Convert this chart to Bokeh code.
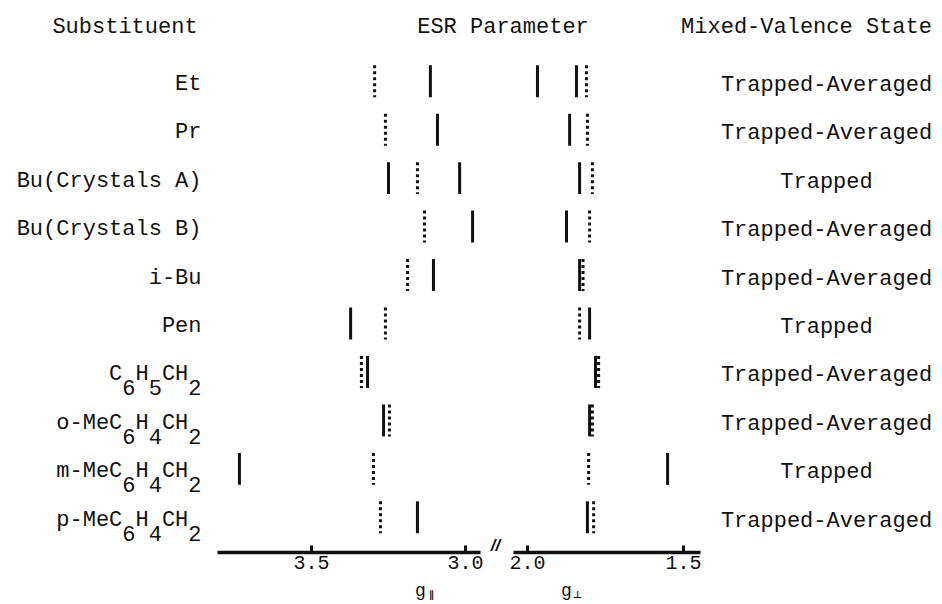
from bokeh.plotting import figure
from bokeh.layouts import column, row
from bokeh.models import Range1d, FixedTicker
from bokeh.embed import file_html
from bokeh.resources import INLINE
from bokeh.core.properties import value

# ---------------- data ----------------
substituents = ["Et", "Pr", "Bu(Crystals A)", "Bu(Crystals B)", "i-Bu", "Pen",
                "C_6H_5CH_2", "o-MeC_6H_4CH_2", "m-MeC_6H_4CH_2", "p-MeC_6H_4CH_2"]
states = ["Trapped-Averaged", "Trapped-Averaged", "Trapped", "Trapped-Averaged",
          "Trapped-Averaged", "Trapped", "Trapped-Averaged", "Trapped-Averaged",
          "Trapped", "Trapped-Averaged"]

# g-parallel values (solid and dotted marks), one list per substituent
g_par_solid = [[3.114], [3.091], [3.250, 3.019], [2.977], [3.104],
               [3.373], [3.318], [3.266], [3.734], [3.156]]
g_par_dotted = [[3.295], [3.260], [3.156], [3.133], [3.188],
                [3.260], [3.338], [3.247], [3.299], [3.276]]
# g-perpendicular values
g_perp_solid = [[1.968, 1.843], [1.865], [1.833], [1.875], [1.833],
                [1.801], [1.782], [1.801], [1.551], [1.808]]
g_perp_dotted = [[1.811], [1.808], [1.792], [1.801], [1.822],
                 [1.833], [1.772], [1.792], [1.804], [1.788]]

par_ticks = [3.5, 3.0]
par_tick_labels = ["3.5", "3.0"]
perp_ticks = [2.0, 1.5]
perp_tick_labels = ["2.0", "1.5"]
headers = ["Substituent", "ESR Parameter", "Mixed-Valence State"]
axis_titles = ["g", "g"]
axis_title_subs = ["\u2225", "\u22a5"]

# ---------------- styling ----------------
MONO = "Liberation Mono"
INK = "#111111"
NBSP = "\u00a0"
HALF = 0.33          # half mark height in row units
FS = "22px"
W = 940
H = 602
SPLIT = 505          # page x where the two panels meet
TOP = 50             # page y of the panels' top
AXIS_Y = 552         # page y of the axis line
BOTTOM_BORDER = 26
FOOT_H = H - (AXIS_Y + BOTTOM_BORDER)

# page-pixel -> data helpers (for placement only)
def par_x(px):
    return 3.5 - (px - 311) / 308.0

def perp_x(px):
    return 2.0 - (px - 527) / 312.0

def row_y(py):
    return (py - 80.7) / 48.46

def flatten(groups):
    xs, ys = [], []
    for i, grp in enumerate(groups):
        for v in grp:
            xs.append(v)
            ys.append(i)
    return xs, ys

def split_sub(s):
    main, sub = "", ""
    i = 0
    while i < len(s):
        if s[i] == "_":
            sub += s[i + 1]
            main += NBSP
            i += 2
        else:
            main += s[i]
            sub += NBSP
            i += 1
    return main, sub

def plain_fig(width, height, xr, yr, bottom=0, with_axis=False):
    p = figure(width=width, height=height, x_range=xr, y_range=yr,
               output_backend="svg", toolbar_location=None, title=None,
               min_border_left=0, min_border_right=0, min_border_top=0,
               min_border_bottom=bottom, y_axis_location=None,
               x_axis_location="below" if with_axis else None,
               outline_line_color=None, background_fill_color="white",
               border_fill_color="white")
    p.grid.visible = False
    return p

def style_axis(ax, ticks, labels, bounds):
    ax.ticker = FixedTicker(ticks=ticks)
    ax.major_label_overrides = {t: l for t, l in zip(ticks, labels)}
    ax.bounds = bounds
    ax.axis_line_width = 3.5
    ax.axis_line_color = INK
    ax.major_tick_in = 7
    ax.major_tick_out = 0
    ax.major_tick_line_width = 3
    ax.major_tick_line_color = INK
    ax.minor_tick_line_color = None
    ax.major_label_text_font = MONO
    ax.major_label_text_font_size = "20px"
    ax.major_label_text_color = INK
    ax.major_label_standoff = 3

def draw_marks(p, groups, dotted):
    xs, ys = flatten(groups)
    p.segment(x0=xs, y0=[y - HALF for y in ys], x1=xs, y1=[y + HALF for y in ys],
              line_width=3, line_color=INK,
              line_dash="3 3" if dotted else "solid")

yr_start, yr_end = row_y(AXIS_Y), row_y(TOP)
panel_h = AXIS_Y - TOP + BOTTOM_BORDER

# ---------------- header ----------------
hdr = plain_fig(W, TOP, Range1d(0, W), Range1d(TOP, 0))
hdr.text(x=[124.5, 502.5, 806.0], y=[27, 27, 27], text=headers,
         text_align="center", text_baseline="middle",
         text_font=value(MONO), text_font_size=FS, text_color=INK)

# ---------------- left panel (g parallel) ----------------
p1 = plain_fig(SPLIT, panel_h, Range1d(par_x(0), par_x(SPLIT)),
               Range1d(yr_start, yr_end), BOTTOM_BORDER, True)
style_axis(p1.xaxis[0], par_ticks, par_tick_labels, (par_x(480), par_x(217)))
draw_marks(p1, g_par_solid, False)
draw_marks(p1, g_par_dotted, True)

rows = list(range(len(substituents)))
mains, subs, sub_rows = [], [], []
for i, s in enumerate(substituents):
    m, sb = split_sub(s)
    mains.append(m)
    if "_" in s:
        subs.append(sb)
        sub_rows.append(i)
p1.text(x=[par_x(201)] * len(rows), y=rows, text=mains, text_align="right",
        text_baseline="middle", y_offset=3, text_font=value(MONO),
        text_font_size=FS, text_color=INK)
p1.text(x=[par_x(201)] * len(sub_rows), y=sub_rows, text=subs, text_align="right",
        text_baseline="middle", y_offset=18, text_font=value(MONO),
        text_font_size=FS, text_color=INK)
# axis break mark
p1.text(x=[par_x(495)], y=[row_y(545)], text=["//"], text_align="center",
        text_baseline="middle", text_font=value("Liberation Sans"),
        text_font_style="bold italic", text_font_size="17px", text_color=INK)

# ---------------- right panel (g perpendicular) ----------------
p2 = plain_fig(W - SPLIT, panel_h, Range1d(perp_x(SPLIT), perp_x(W)),
               Range1d(yr_start, yr_end), BOTTOM_BORDER, True)
style_axis(p2.xaxis[0], perp_ticks, perp_tick_labels, (perp_x(700), perp_x(513)))
draw_marks(p2, g_perp_solid, False)
draw_marks(p2, g_perp_dotted, True)
p2.text(x=[perp_x(826)] * len(rows), y=rows, text=states, text_align="center",
        text_baseline="middle", y_offset=4, text_font=value(MONO),
        text_font_size=FS, text_color=INK)

# ---------------- footer: axis titles ----------------
foot = plain_fig(W, FOOT_H, Range1d(0, W), Range1d(FOOT_H, 0))
foot.text(x=[420, 566], y=[12, 12], text=axis_titles,
          text_align="center", text_baseline="middle",
          text_font=value(MONO), text_font_size="18px", text_color=INK)
foot.text(x=[431, 577], y=[16, 16], text=axis_title_subs,
          text_align="center", text_baseline="middle",
          text_font=value("DejaVu Sans"), text_font_style="bold",
          text_font_size="10px", text_color=INK)

layout = column(hdr, row(p1, p2), foot)
open("out.html", "w").write(file_html(layout, INLINE))
